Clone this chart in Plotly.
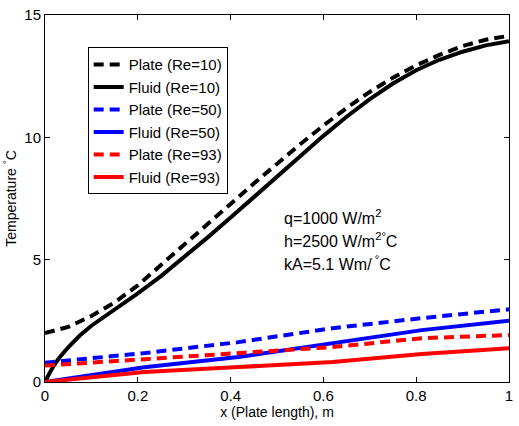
import plotly.graph_objects as go

x_re10_plate = [0, 0.05, 0.1, 0.15, 0.2, 0.25, 0.3, 0.35, 0.4, 0.45, 0.5, 0.55, 0.6, 0.65, 0.7, 0.75, 0.8, 0.85, 0.9, 0.95, 1.0]
plate_re10 = [2.0, 2.25, 2.7, 3.25, 3.95, 4.77, 5.61, 6.45, 7.28, 8.11, 8.93, 9.72, 10.48, 11.2, 11.86, 12.44, 12.94, 13.37, 13.73, 13.99, 14.15]

x_re10_fluid = [0, 0.005, 0.01, 0.02, 0.03, 0.05, 0.075, 0.1, 0.15, 0.2, 0.25, 0.3, 0.35, 0.4, 0.45, 0.5, 0.55, 0.6, 0.65, 0.7, 0.75, 0.8, 0.85, 0.9, 0.95, 1.0]
fluid_re10 = [0, 0.2, 0.37, 0.7, 0.97, 1.42, 1.9, 2.3, 2.95, 3.62, 4.33, 5.1, 5.9, 6.72, 7.56, 8.4, 9.24, 10.06, 10.84, 11.56, 12.2, 12.74, 13.17, 13.5, 13.76, 13.93]

x_low = [0, 0.214, 0.417, 0.62, 0.812, 1.0]
plate_re50 = [0.79, 1.18, 1.63, 2.2, 2.61, 2.97]
fluid_re50 = [0.0, 0.6, 1.02, 1.59, 2.12, 2.5]
plate_re93 = [0.67, 0.93, 1.18, 1.43, 1.79, 1.92]
fluid_re93 = [0.0, 0.41, 0.61, 0.82, 1.14, 1.38]

series = [
    ("Plate (Re=10)", x_re10_plate, plate_re10, "black", "dash"),
    ("Fluid (Re=10)", x_re10_fluid, fluid_re10, "black", "solid"),
    ("Plate (Re=50)", x_low, plate_re50, "#0000ff", "dash"),
    ("Fluid (Re=50)", x_low, fluid_re50, "#0000ff", "solid"),
    ("Plate (Re=93)", x_low, plate_re93, "#ff0000", "dash"),
    ("Fluid (Re=93)", x_low, fluid_re93, "#ff0000", "solid"),
]

fig = go.Figure()
for name, xs, ys, color, dash in series:
    fig.add_trace(go.Scatter(
        x=xs, y=ys, mode="lines", name=name,
        line=dict(color=color, width=4, dash=("10px,6px" if dash == "dash" else "solid"), shape="linear"),
    ))

FAM = "Liberation Sans, Arial, sans-serif"

fig.update_layout(
    width=519, height=426,
    margin=dict(l=45, r=6, t=14, b=44),
    paper_bgcolor="white", plot_bgcolor="white",
    font=dict(family=FAM, size=14, color="black"),
    showlegend=True,
    legend=dict(
        x=0.092, y=0.912, xanchor="left", yanchor="top",
        bordercolor="black", borderwidth=1, bgcolor="white",
        font=dict(family=FAM, size=15, color="black"),
        tracegroupgap=0, itemwidth=30,
    ),
    xaxis=dict(
        range=[0, 1], tickvals=[0, 0.2, 0.4, 0.6, 0.8, 1], ticktext=["0", "0.2", "0.4", "0.6", "0.8", "1"],
        ticks="inside", ticklen=5, tickcolor="black", showline=True, linecolor="black", linewidth=1,
        mirror="ticks", showgrid=False, zeroline=False,
        title=dict(text="x (Plate length), m", standoff=3, font=dict(size=14)),
        tickfont=dict(size=15),
    ),
    yaxis=dict(
        range=[0, 15], tickvals=[0, 5, 10, 15],
        ticks="inside", ticklen=5, tickcolor="black", showline=True, linecolor="black", linewidth=1,
        mirror="ticks", showgrid=False, zeroline=False,
        title=dict(text="Temperature <sup>°</sup>C", standoff=4, font=dict(size=14)),
        tickfont=dict(size=15),
    ),
)

ann_texts = ["q=1000 W/m<sup>2</sup>", "h=2500 W/m<sup>2°</sup>C", "kA=5.1 Wm/<sup> °</sup>C"]
ann_y = [6.75, 5.8, 4.85]
for t, yv in zip(ann_texts, ann_y):
    fig.add_annotation(x=0.51, y=yv, xref="x", yref="y", text=t, showarrow=False,
                       xanchor="left", yanchor="middle",
                       font=dict(family=FAM, size=16, color="black"))

fig.write_html("out.html")
